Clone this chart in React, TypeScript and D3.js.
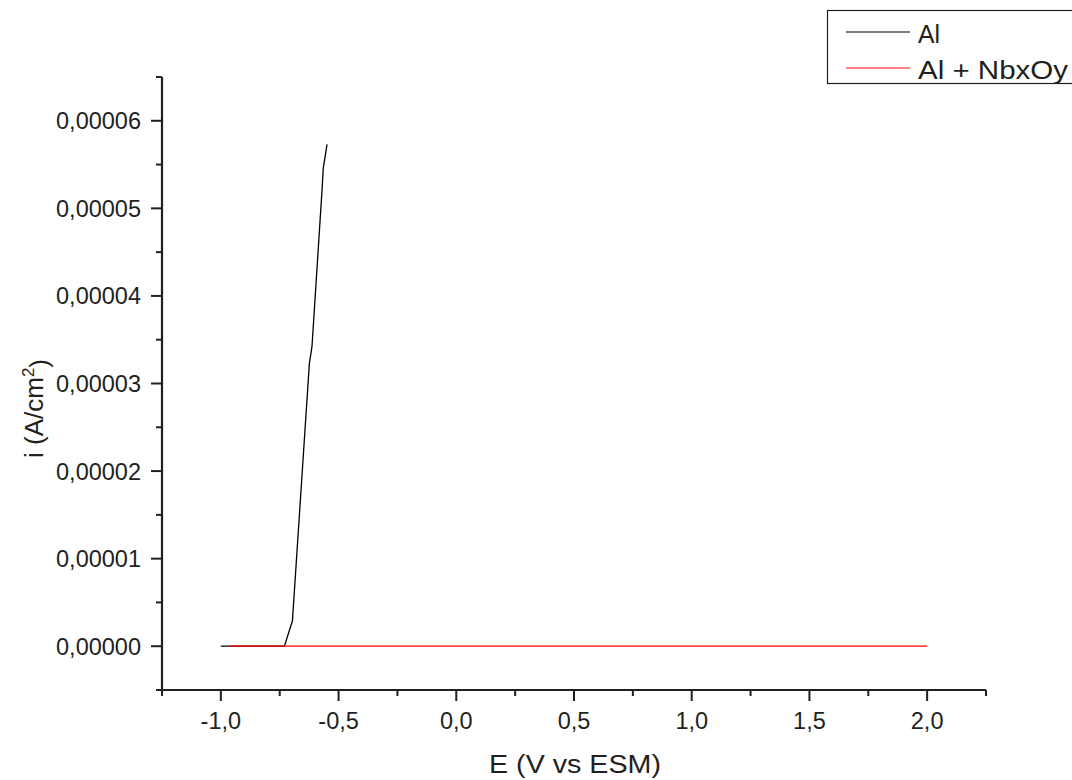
import React, { useEffect, useRef } from 'react';
import * as d3 from 'd3';

// Potentiodynamic curves: E (V vs ESM), i (A/cm2)
const alE = [-1.0, -0.9, -0.8, -0.73, -0.696, -0.624, -0.613, -0.57, -0.565, -0.549];
const alI = [0, 0, 0, 0, 0.0000029, 0.0000323, 0.0000342, 0.0000522, 0.0000546, 0.0000573];
const nbE = [-0.966, -0.5, 0.0, 0.5, 1.0, 1.5, 2.0];
const nbI = [0, 0, 0, 0, 0, 0, 0];

const xMajor = [-1.0, -0.5, 0.0, 0.5, 1.0, 1.5, 2.0];
const xMinor = [-1.25, -0.75, -0.25, 0.25, 0.75, 1.25, 1.75, 2.25];
const yMajor = [0, 0.00001, 0.00002, 0.00003, 0.00004, 0.00005, 0.00006];
const yMinor = [-0.000005, 0.000005, 0.000015, 0.000025, 0.000035, 0.000045, 0.000055, 0.000065];

const seriesNames = ['Al', 'Al + NbxOy'];
const seriesColors = ['#000000', '#ff0000'];

const FONT = '"Liberation Sans", Arial, sans-serif';

const App = () => {
  const ref = useRef(null);

  useEffect(() => {
    document.body.style.margin = '0';
    const svg = d3.select(ref.current);
    svg.selectAll('*').remove();

    const x = d3.scaleLinear().domain([-1.25, 2.25]).range([162, 986]);
    const y = d3.scaleLinear().domain([-0.000005, 0.000065]).range([690, 77]);

    // Origin-style labels: decimal comma, plain hyphen for minus
    const comma = (f) => (v) => f(v).replace('.', ',').replace('\u2212', '-');
    const fx = comma(d3.format('.1f'));
    const fy = comma(d3.format('.5f'));

    // --- Curves ---
    const line = d3.line().x(d => x(d[0])).y(d => y(d[1]));
    const al = alE.map((e, k) => [e, alI[k]]);
    const nb = nbE.map((e, k) => [e, nbI[k]]);
    [al, nb].forEach((pts, k) => {
      svg.append('path')
        .attr('d', line(pts))
        .attr('fill', 'none')
        .attr('stroke', seriesColors[k])
        .attr('stroke-width', 1.3);
    });

    // --- Axes ---
    const axisColor = '#231f20';
    // x axis
    svg.append('line')
      .attr('x1', 162).attr('x2', 986).attr('y1', 690).attr('y2', 690)
      .attr('stroke', axisColor).attr('stroke-width', 2.2);
    xMajor.forEach(v => {
      svg.append('line')
        .attr('x1', x(v)).attr('x2', x(v)).attr('y1', 690).attr('y2', 701)
        .attr('stroke', axisColor).attr('stroke-width', 2);
      svg.append('text')
        .attr('x', x(v)).attr('y', 729)
        .attr('text-anchor', 'middle')
        .style('font-family', FONT).style('font-size', '23.5px').style('fill', axisColor)
        .text(fx(v));
    });
    xMinor.forEach(v => {
      svg.append('line')
        .attr('x1', x(v)).attr('x2', x(v)).attr('y1', 690).attr('y2', 696)
        .attr('stroke', axisColor).attr('stroke-width', 2);
    });

    // y axis
    svg.append('line')
      .attr('x1', 162).attr('x2', 162).attr('y1', 77).attr('y2', 691)
      .attr('stroke', axisColor).attr('stroke-width', 2.2);
    yMajor.forEach(v => {
      svg.append('line')
        .attr('x1', 151).attr('x2', 162).attr('y1', y(v)).attr('y2', y(v))
        .attr('stroke', axisColor).attr('stroke-width', 2);
      svg.append('text')
        .attr('x', 141).attr('y', y(v)).attr('dy', '0.36em')
        .attr('text-anchor', 'end')
        .style('font-family', FONT).style('font-size', '23.5px').style('fill', axisColor)
        .text(fy(v));
    });
    yMinor.forEach(v => {
      svg.append('line')
        .attr('x1', 156).attr('x2', 162).attr('y1', y(v)).attr('y2', y(v))
        .attr('stroke', axisColor).attr('stroke-width', 2);
    });

    // axis titles
    svg.append('text')
      .attr('x', 489).attr('y', 773)
      .attr('textLength', 172).attr('lengthAdjust', 'spacingAndGlyphs')
      .style('font-family', FONT).style('font-size', '25.5px').style('fill', axisColor)
      .text('E (V vs ESM)');

    const yt = svg.append('text')
      .attr('transform', 'translate(43,458) rotate(-90)')
      .style('font-family', FONT).style('font-size', '26px').style('fill', axisColor);
    yt.append('tspan').text('i (A/cm');
    yt.append('tspan').attr('dy', '-0.55em').style('font-size', '17px').text('2');
    yt.append('tspan').attr('dy', '0.55em').text(')');

    // --- Legend ---
    svg.append('rect')
      .attr('x', 827.5).attr('y', 10.5).attr('width', 260).attr('height', 73)
      .attr('fill', 'white').attr('stroke', axisColor).attr('stroke-width', 1.2);
    seriesNames.forEach((name, k) => {
      const ly = 32 + k * 36;
      svg.append('line')
        .attr('x1', 846).attr('x2', 910).attr('y1', ly).attr('y2', ly)
        .attr('stroke', seriesColors[k]).attr('stroke-width', 1.2);
      svg.append('text')
        .attr('x', 918).attr('y', ly + 10.5)
        .attr('textLength', k === 0 ? 22 : 150).attr('lengthAdjust', 'spacingAndGlyphs')
        .style('font-family', FONT).style('font-size', '25.5px').style('fill', axisColor)
        .text(name);
    });
  }, []);

  return (
    <svg ref={ref} width={1072} height={780}
      style={{ display: 'block', background: 'white' }} />
  );
};

export default App;
